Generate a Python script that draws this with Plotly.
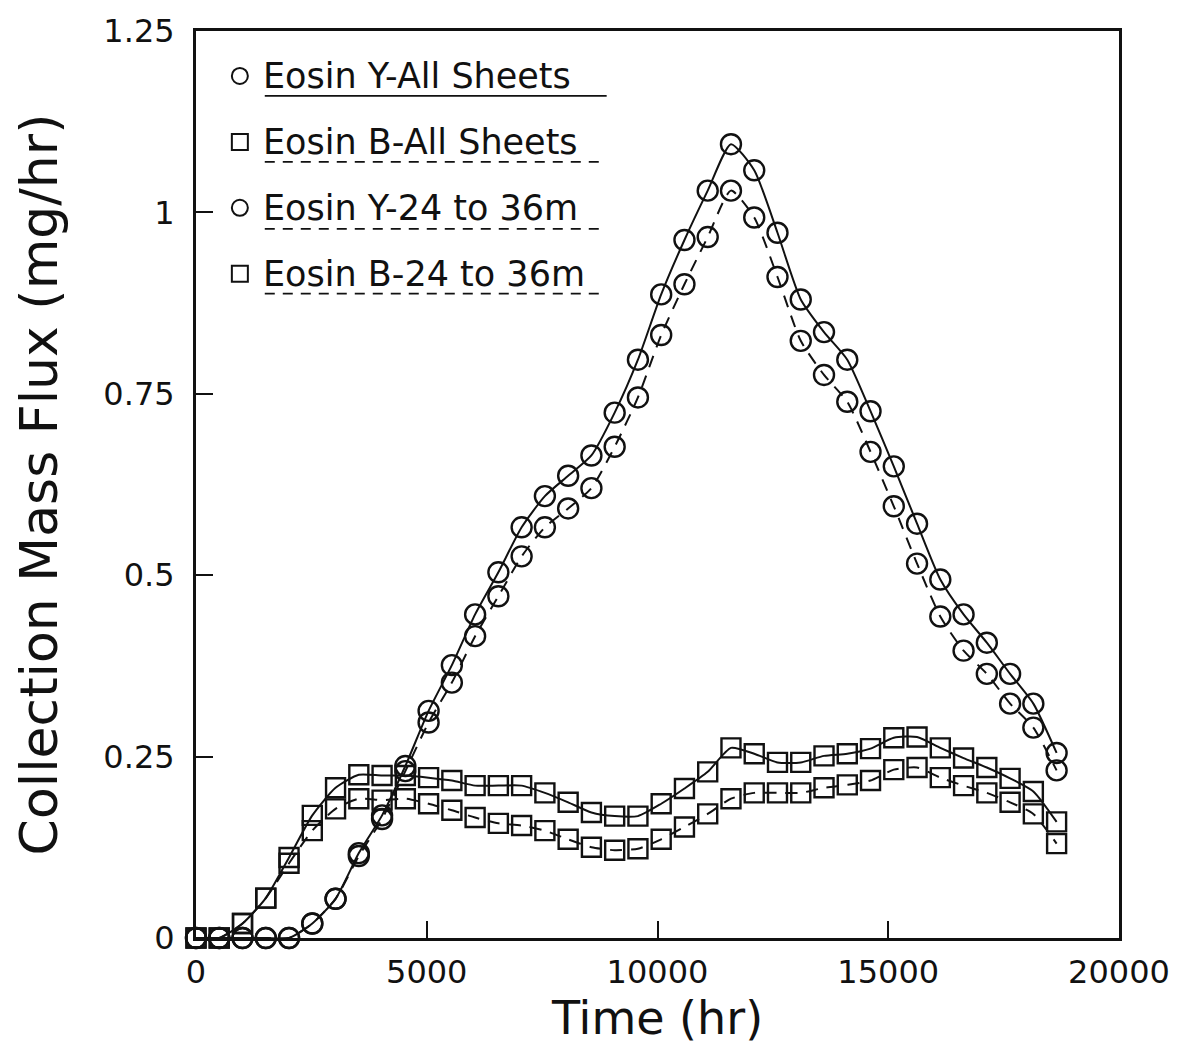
import plotly.graph_objects as go

# Sampling times (hr)
time_hr = [0, 504, 1008, 1512, 2016, 2520, 3024, 3528, 4032, 4536,
           5040, 5544, 6048, 6552, 7056, 7560, 8064, 8568, 9072, 9576,
           10080, 10584, 11088, 11592, 12096, 12600, 13104, 13608, 14112, 14616,
           15120, 15624, 16128, 16632, 17136, 17640, 18144, 18648]

eosin_y_all = [0, 0, 0, 0, 0, 0.02, 0.054, 0.117, 0.169, 0.237,
               0.313, 0.376, 0.446, 0.504, 0.566, 0.609, 0.637, 0.665, 0.724, 0.797,
               0.887, 0.962, 1.03, 1.094, 1.058, 0.972, 0.88, 0.835, 0.797, 0.726,
               0.65, 0.571, 0.494, 0.446, 0.407, 0.364, 0.323, 0.255]

eosin_y_24_36 = [0, 0, 0, 0, 0, 0.02, 0.054, 0.113, 0.164, 0.230,
                 0.297, 0.352, 0.416, 0.471, 0.526, 0.566, 0.592, 0.620, 0.677, 0.745,
                 0.831, 0.901, 0.966, 1.03, 0.993, 0.911, 0.823, 0.776, 0.739, 0.670,
                 0.595, 0.516, 0.443, 0.396, 0.364, 0.323, 0.290, 0.231]

eosin_b_all = [0, 0, 0.02, 0.055, 0.111, 0.169, 0.207, 0.225, 0.224, 0.224,
               0.221, 0.217, 0.210, 0.210, 0.210, 0.200, 0.187, 0.173, 0.168, 0.168,
               0.185, 0.206, 0.229, 0.262, 0.254, 0.242, 0.242, 0.251, 0.254, 0.261,
               0.276, 0.277, 0.262, 0.248, 0.235, 0.220, 0.202, 0.160]

eosin_b_24_36 = [0, 0, 0.02, 0.055, 0.103, 0.148, 0.178, 0.192, 0.190, 0.192,
                 0.185, 0.176, 0.166, 0.158, 0.155, 0.148, 0.136, 0.125, 0.121, 0.123,
                 0.136, 0.153, 0.171, 0.192, 0.200, 0.200, 0.200, 0.207, 0.211, 0.217,
                 0.232, 0.235, 0.221, 0.210, 0.200, 0.187, 0.171, 0.130]

series_names = ["Eosin Y-All Sheets", "Eosin B-All Sheets",
                "Eosin Y-24 to 36m", "Eosin B-24 to 36m"]

x_ticks = [0, 5000, 10000, 15000, 20000]
y_ticks = [0, 0.25, 0.5, 0.75, 1, 1.25]
y_tick_text = ["0", "0.25", "0.5", "0.75", "1", "1.25"]

FONT = "DejaVu Sans"
BLACK = "#111111"

fig = go.Figure()

specs = [
    (eosin_y_all, series_names[0], "circle-open", "solid"),
    (eosin_b_all, series_names[1], "square-open", "solid"),
    (eosin_y_24_36, series_names[2], "circle-open", "12px,9px"),
    (eosin_b_24_36, series_names[3], "square-open", "12px,9px"),
]
for vals, name, sym, dash in specs:
    fig.add_trace(go.Scatter(
        x=time_hr, y=vals, name=name, mode="lines+markers",
        line=dict(color=BLACK, width=2, dash=dash, shape="spline", smoothing=0.6),
        marker=dict(symbol=sym, size=20 if "circle" in sym else 19,
                    color=BLACK, line=dict(color=BLACK, width=2.4)),
        cliponaxis=False, showlegend=False,
    ))

# Custom legend (symbol, text, line-style underline) inside plot area
legend_rows = [
    (series_names[0], "circle", "solid", 75, 95),
    (series_names[1], "rect", "dash", 141, 161),
    (series_names[2], "circle", "dash", 207, 228),
    (series_names[3], "rect", "dash", 273, 293),
]
L, T, W, H = 196, 30, 926, 908

def px_to_paper(px, py):
    return (px - L) / W, (T + H - py) / H

for text, shape, dash, cy, uy in legend_rows:
    sx, sy = px_to_paper(240, cy)
    fig.add_shape(type=shape, xref="paper", yref="paper",
                  xsizemode="pixel", ysizemode="pixel",
                  xanchor=sx, yanchor=sy, x0=-8, x1=8, y0=-8, y1=8,
                  line=dict(color=BLACK, width=2))
    tx, ty = px_to_paper(261, cy)
    fig.add_annotation(x=tx, y=ty, xref="paper", yref="paper", text=text,
                       showarrow=False, xanchor="left", yanchor="middle",
                       font=dict(family=FONT, size=35, color=BLACK))
    ux0, uyp = px_to_paper(265, uy)
    ux1, _ = px_to_paper(608, uy)
    fig.add_shape(type="line", xref="paper", yref="paper",
                  x0=ux0, x1=ux1, y0=uyp, y1=uyp,
                  line=dict(color=BLACK, width=1.8,
                            dash="solid" if dash == "solid" else "10px,8px"))

axis_common = dict(
    showline=True, linecolor=BLACK, linewidth=3, mirror=True,
    ticks="inside", ticklen=17, tickwidth=2, tickcolor=BLACK,
    showgrid=False, zeroline=False,
    tickfont=dict(family=FONT, size=32, color=BLACK),
)

fig.update_layout(
    width=1182, height=1050,
    margin=dict(l=L, r=1182 - L - W, t=T, b=1050 - T - H),
    paper_bgcolor="white", plot_bgcolor="white",
    xaxis=dict(range=[0, 20000], tickvals=x_ticks,
               ticktext=[str(v) for v in x_ticks],
               ticklabelstandoff=4,
               title=dict(text="Time (hr)", standoff=10,
                          font=dict(family=FONT, size=46, color=BLACK)),
               **axis_common),
    yaxis=dict(range=[0, 1.25], tickvals=y_ticks, ticktext=y_tick_text,
               ticklabelstandoff=12,
               title=dict(text="Collection Mass Flux (mg/hr)", standoff=30,
                          font=dict(family=FONT, size=52, color=BLACK)),
               **axis_common),
)

fig.write_html("out.html")
